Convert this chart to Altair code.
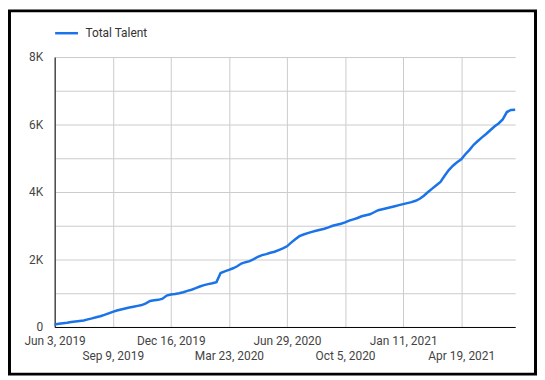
import altair as alt
import pandas as pd

start_date = "2019-06-03"
series_name = "Total Talent"
# weekly values (week 0 = Jun 3, 2019)
values = [
    75, 95, 110, 125, 145, 165, 180, 195, 225, 255,
    290, 320, 360, 405, 450, 490, 520, 550, 575, 600,
    625, 650, 700, 770, 790, 805, 840, 930, 960, 975,
    1000, 1030, 1070, 1105, 1150, 1200, 1240, 1270, 1295, 1330,
    1600, 1650, 1690, 1740, 1800, 1880, 1920, 1950, 2010, 2080,
    2130, 2160, 2200, 2230, 2280, 2330, 2390, 2500, 2600, 2690,
    2740, 2780, 2820, 2850, 2880, 2910, 2950, 3000, 3030, 3060,
    3100, 3150, 3190, 3230, 3280, 3310, 3340, 3400, 3460, 3490,
    3520, 3550, 3580, 3610, 3640, 3670, 3700, 3740, 3800, 3890,
    4000, 4100, 4200, 4300, 4480, 4650, 4780, 4880, 4970, 5120,
    5250, 5400, 5510, 5620, 5720, 5830, 5940, 6030, 6150, 6370,
    6430, 6440,
]
tick_dates = [
    "2019-06-03", "2019-09-09", "2019-12-16", "2020-03-23",
    "2020-06-29", "2020-10-05", "2021-01-11", "2021-04-19",
]
y_ticks = [0, 1000, 2000, 3000, 4000, 5000, 6000, 7000, 8000]

dates = pd.date_range(start_date, periods=len(values), freq="7D")
df = pd.DataFrame({
    "date": [d.strftime("%Y-%m-%dT00:00:00") for d in dates],
    "value": values,
    "series": series_name,
})

def dt(s):
    y, m, d = map(int, s.split("-"))
    return alt.DateTime(year=y, month=m, date=d)

W, H = 464, 272
PAD = {"left": 47, "top": 48, "right": 22, "bottom": 49}

x_label_expr = (
    "(round((datum.value - datetime(2019,5,3)) / (98*86400000)) % 2 == 1) "
    "? ['', timeFormat(datum.value, '%b %-d, %Y')] "
    ": timeFormat(datum.value, '%b %-d, %Y')"
)

line = alt.Chart(df).mark_line(strokeWidth=2.5).encode(
    x=alt.X(
        "date:T",
        scale=alt.Scale(domain=[dt(start_date), dt(dates[-1].strftime("%Y-%m-%d"))], nice=False),
        axis=alt.Axis(
            title=None,
            values=[dt(s) for s in tick_dates],
            labelExpr=x_label_expr,
            labelLineHeight=15,
            labelOverlap=False,
            labelBound=False,
            labelFlush=False,
            ticks=False,
            labelPadding=9,
            labelBaseline="top",
        ),
    ),
    y=alt.Y(
        "value:Q",
        scale=alt.Scale(domain=[0, 8000], nice=False),
        axis=alt.Axis(
            title=None,
            values=y_ticks,
            labelExpr="datum.value % 2000 == 0 ? (datum.value == 0 ? '0' : (datum.value / 1000) + 'K') : ''",
            ticks=False,
            labelPadding=12,
        ),
    ),
    color=alt.Color(
        "series:N",
        scale=alt.Scale(range=["#1a73e8"]),
        legend=alt.Legend(
            title=None,
            orient="none",
            legendX=-1,
            legendY=-37,
            symbolType="stroke",
            symbolSize=529,
            symbolStrokeWidth=2.5,
            labelFontSize=12,
            labelColor="#333333",
            labelOffset=6,
            padding=0,
        ),
    ),
)

frame = alt.Chart(pd.DataFrame({"k": [0]})).mark_rect(
    filled=False, stroke="black", strokeWidth=3
).encode(
    x=alt.value(-45.5),
    x2=alt.value(W + PAD["right"] - 1.5),
    y=alt.value(-46.5),
    y2=alt.value(H + PAD["bottom"] - 1.5),
)

chart = alt.layer(line, frame).properties(
    width=W,
    height=H,
    autosize=alt.AutoSizeParams(type="none"),
    padding=PAD,
).configure(
    font="Roboto",
).configure_view(
    stroke=None,
).configure_axis(
    domainColor="#000000",
    domainWidth=1,
    gridColor="#cccccc",
    gridWidth=1,
    labelColor="#444444",
    labelFontSize=12,
    labelFont="Roboto",
)

chart.save("out.html", embed_options={"renderer": "svg", "actions": False})
